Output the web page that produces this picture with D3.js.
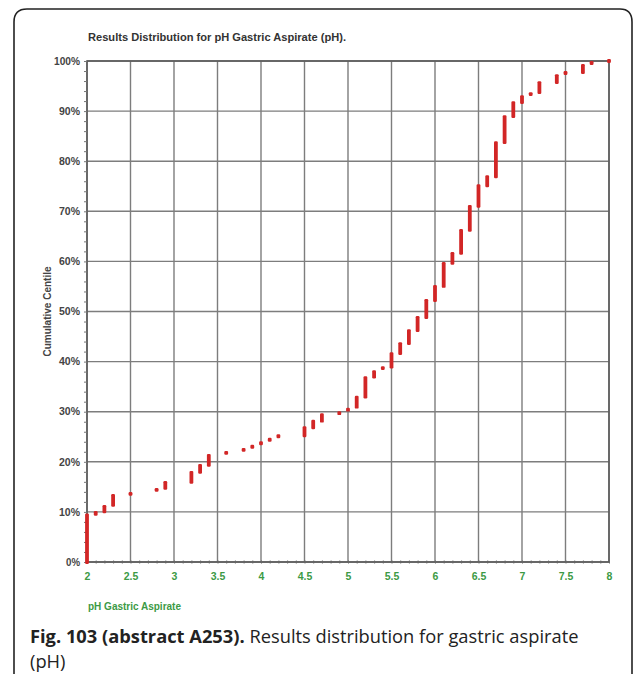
<!DOCTYPE html>
<html><head><meta charset="utf-8">
<script src="https://cdn.jsdelivr.net/npm/d3@7"></script>
<style>
body{margin:0;background:#fff;}
svg{display:block;}
</style></head>
<body>
<svg id="c" width="633" height="674"></svg>
<script>
const chartTitle = "Results Distribution for pH Gastric Aspirate (pH).";
const xTitle = "pH Gastric Aspirate";
const yTitle = "Cumulative Centile";
const xTicks = [2,2.5,3,3.5,4,4.5,5,5.5,6,6.5,7,7.5,8];
const yTicks = [0,10,20,30,40,50,60,70,80,90,100];
const phValues = [2.0,2.1,2.2,2.3,2.5,2.8,2.9,3.2,3.3,3.4,3.6,3.8,3.9,4.0,4.1,4.2,4.5,4.6,4.7,4.9,5.0,5.1,5.2,5.3,5.4,5.5,5.6,5.7,5.8,5.9,6.0,6.1,6.2,6.3,6.4,6.5,6.6,6.7,6.8,6.9,7.0,7.1,7.2,7.4,7.5,7.7,7.8,8.0];
const centileLow  = [0,9.6,10.1,11.4,13.6,14.4,14.8,16.0,18.0,19.4,21.8,22.4,23.0,23.7,24.4,25.1,25.3,26.9,28.2,29.7,30.4,31.0,33.0,37.0,38.7,39.0,41.7,43.7,46.3,48.9,52.3,55.1,59.7,61.7,66.3,71.1,75.2,77.0,83.8,89.0,91.8,93.4,93.8,95.8,97.6,97.8,99.6,100];
const centileHigh = [9.3,9.8,11.0,13.2,13.6,14.4,15.8,17.8,19.2,21.2,21.8,22.4,23.0,23.7,24.4,25.1,26.7,28.0,29.3,29.7,30.4,32.8,36.7,37.9,38.7,41.5,43.5,46.1,48.7,52.1,54.9,59.5,61.5,66.1,70.9,75.0,76.8,83.6,88.8,91.6,92.8,93.4,95.6,97.0,97.6,99.0,99.6,100];

const svg = d3.select("#c");
const L = 87, R = 609, T = 61, B = 562;
const x = d3.scaleLinear().domain([2,8]).range([L,R]);
const y = d3.scaleLinear().domain([0,100]).range([B,T]);

// frame
svg.append("path")
  .attr("d", `M14,690 L14,22 Q14,9 27,9 L620,9 Q632,9 632,22 L632,690`)
  .attr("fill","none").attr("stroke","#222").attr("stroke-width",1.6);

// title
svg.append("text").attr("x",88).attr("y",41)
  .attr("font-family","Liberation Sans, Arial, sans-serif").attr("font-weight","bold")
  .attr("font-size",10).attr("fill","#333").attr("textLength",258).attr("lengthAdjust","spacingAndGlyphs")
  .text(chartTitle);

// grid
const g = svg.append("g");
g.selectAll("line.v").data(xTicks).join("line")
  .attr("x1",d=>x(d)).attr("x2",d=>x(d)).attr("y1",T).attr("y2",B)
  .attr("stroke","#7d7d7d").attr("stroke-width",1.4);
g.selectAll("line.h").data(yTicks).join("line")
  .attr("x1",L).attr("x2",R).attr("y1",d=>y(d)).attr("y2",d=>y(d))
  .attr("stroke","#7d7d7d").attr("stroke-width",1.4);
// border
g.append("rect").attr("x",L).attr("y",T).attr("width",R-L).attr("height",B-T)
  .attr("fill","none").attr("stroke","#5a5a5a").attr("stroke-width",1.6);

// y axis
const yAxis = d3.axisLeft(y).tickValues(yTicks).tickFormat(d=>d+"%").tickSize(0).tickPadding(7);
const ya = svg.append("g").attr("transform",`translate(${L},0)`).call(yAxis);
ya.select(".domain").remove();
ya.selectAll("text").attr("font-family","Liberation Sans, Arial, sans-serif")
  .attr("font-weight","bold").attr("font-size",10).attr("fill","#444")
  .attr("textLength",d=>d===100?26:(d===0?14:21)).attr("lengthAdjust","spacingAndGlyphs");
const yMinor = d3.axisLeft(y).tickValues(d3.range(0,101,2)).tickFormat("").tickSize(3);
const ym = svg.append("g").attr("transform",`translate(${L},0)`).call(yMinor);
ym.select(".domain").remove();
ym.selectAll("line").attr("stroke","#777");

// x axis
const xAxis = d3.axisBottom(x).tickValues(xTicks).tickFormat(d=>d).tickSize(0).tickPadding(11);
const xa = svg.append("g").attr("transform",`translate(0,${B})`).call(xAxis);
xa.select(".domain").remove();
xa.selectAll("text").attr("font-family","Liberation Sans, Arial, sans-serif")
  .attr("font-weight","bold").attr("font-size",10.5).attr("fill","#3c9a45");
const xMinor = d3.axisBottom(x).tickValues(d3.range(20,81,1).map(v=>v/10)).tickFormat("").tickSize(3);
const xm = svg.append("g").attr("transform",`translate(0,${B-1.5})`).call(xMinor);
xm.select(".domain").remove();
xm.selectAll("line").attr("stroke","#666");

// axis titles
svg.append("text").attr("transform",`translate(51,${(T+B)/2}) rotate(-90)`)
  .attr("text-anchor","middle").attr("font-family","Liberation Sans, Arial, sans-serif")
  .attr("font-weight","bold").attr("font-size",10).attr("fill","#444").text(yTitle);
svg.append("text").attr("x",88).attr("y",610)
  .attr("font-family","Liberation Sans, Arial, sans-serif")
  .attr("font-weight","bold").attr("font-size",10).attr("fill","#3c9a45").text(xTitle);

// data bars
const data = phValues.map((p,i)=>({p, lo:centileLow[i], hi:centileHigh[i]}));
svg.append("g").selectAll("rect").data(data).join("rect")
  .attr("x",d=>x(d.p)-1.9).attr("width",3.8)
  .attr("y",d=>y(d.hi)-1.9)
  .attr("height",d=>Math.max(3.8, y(d.lo)-y(d.hi)+3.8))
  .attr("rx",1.2).attr("fill","#d22626");

// caption
const cap = svg.append("text").attr("x",30).attr("y",643)
  .attr("font-family","Open Sans, Noto Sans, sans-serif").attr("font-size",18.3).attr("fill","#222");
cap.append("tspan").attr("font-weight","bold").text("Fig. 103 (abstract A253).");
cap.append("tspan").text(" Results distribution for gastric aspirate");
svg.append("text").attr("x",30).attr("y",668)
  .attr("font-family","Open Sans, Noto Sans, sans-serif").attr("font-size",18.3).attr("fill","#222")
  .text("(pH)");
</script>
</body></html>
